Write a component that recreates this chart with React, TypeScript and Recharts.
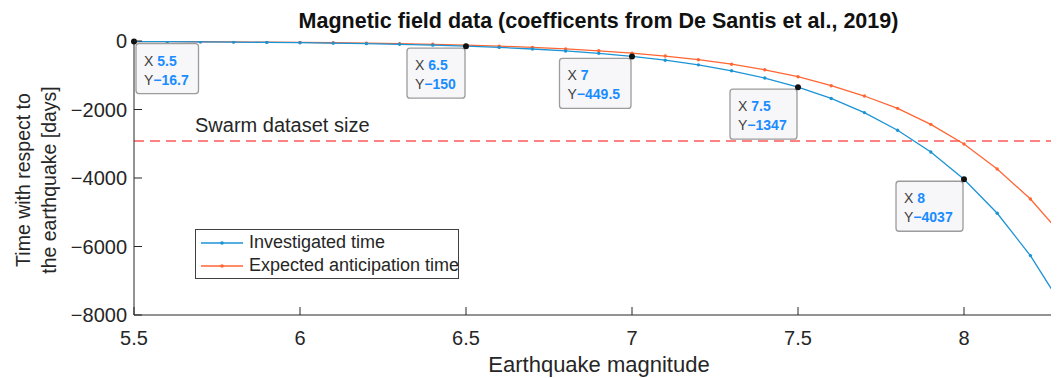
import React from 'react';
import { LineChart, Line, XAxis, YAxis, ReferenceLine, ReferenceDot } from 'recharts';

const magnitudes = [5.5, 5.6, 5.7, 5.8, 5.9, 6.0, 6.1, 6.2, 6.3, 6.4, 6.5, 6.6, 6.7, 6.8, 6.9, 7.0, 7.1, 7.2, 7.3, 7.4, 7.5, 7.6, 7.7, 7.8, 7.9, 8.0, 8.1, 8.2, 8.3];
const investigated = [-16.7, -20.8, -25.9, -32.3, -40.2, -50, -62.4, -77.7, -96.8, -120.6, -150, -187, -233, -290, -361, -449.5, -560, -697, -869, -1082, -1347, -1678, -2090, -2604, -3243, -4037, -5029, -6265, -7804];
const expected = [-14, -17.5, -22, -27, -33, -41, -51, -63, -78, -97, -121, -150, -186, -231, -286, -355, -440, -546, -677, -840, -1042, -1305, -1606, -1966, -2433, -3008, -3738, -4613, -5720];

const xTicks = [5.5, 6, 6.5, 7, 7.5, 8];
const yTicks = [-8000, -6000, -4000, -2000, 0];

const tipX = [5.5, 6.5, 7, 7.5, 8];
const tipY = [-16.7, -150, -449.5, -1347, -4037];
const tipXLabel = ['5.5', '6.5', '7', '7.5', '8'];
const tipYLabel = ['\u221216.7', '\u2212150', '\u2212449.5', '\u22121347', '\u22124037'];

const swarmSize = -2920;

const data = magnitudes.map((m, i) => ({ m, inv: investigated[i], exp: expected[i] }));

const AXIS = '#262626';
const BLUE = '#1b94d6';
const ORANGE = '#ff6633';
const FONT = '"Liberation Sans", Arial, sans-serif';

const fmt = (v: number) => String(v).replace('-', '\u2212');

const BottomTick = (p: any) => (
  <g>
    <line x1={p.x} y1={p.y} x2={p.x} y2={p.y - 8} stroke={AXIS} strokeWidth={1} />
    <text x={p.x} y={p.y + 30} textAnchor="middle" fontSize={20} fill={AXIS} fontFamily={FONT}>{fmt(p.payload.value)}</text>
  </g>
);
const TopTick = (p: any) => (
  <line x1={p.x} y1={p.y} x2={p.x} y2={p.y + 8} stroke={AXIS} strokeWidth={1} />
);
const LeftTick = (p: any) => (
  <g>
    <line x1={p.x} y1={p.y} x2={p.x + 8} y2={p.y} stroke={AXIS} strokeWidth={1} />
    <text x={p.x - 7} y={p.y + 7} textAnchor="end" fontSize={20} fill={AXIS} fontFamily={FONT}>{fmt(p.payload.value)}</text>
  </g>
);
const RightTick = (p: any) => (
  <line x1={p.x} y1={p.y} x2={p.x - 8} y2={p.y} stroke={AXIS} strokeWidth={1} />
);

const tipWidth = (s: string) => {
  let n = 0;
  for (const c of s) n += c === '.' ? 0.5 : 1;
  return 22 + 9 * n;
};

const makeTip = (i: number) => (p: any) => {
  const w = tipWidth(tipYLabel[i]);
  const h = 50;
  const bx = i === 0 ? p.cx + 2 : p.cx - w - 1;
  const by = p.cy + 2;
  return (
    <g>
      <rect x={bx} y={by} width={w} height={h} rx={3} fill="#f7f7fa" stroke="#9c9c9c" strokeWidth={1.3} />
      <text x={bx + 8} y={by + 22} fontSize={14} fontFamily={FONT} fill="#404040">
        X <tspan fill="#1a8cff" fontWeight="bold">{tipXLabel[i]}</tspan>
      </text>
      <text x={bx + 8} y={by + 41} fontSize={14} fontFamily={FONT} fill="#404040">
        Y<tspan fill="#1a8cff" fontWeight="bold">{tipYLabel[i]}</tspan>
      </text>
      <circle cx={p.cx} cy={p.cy} r={3} fill="#111" />
    </g>
  );
};

const LegendSample = ({ color }: { color: string }) => (
  <svg width={44} height={10} style={{ display: 'inline-block', verticalAlign: 'middle' }}>
    <line x1={1} y1={5} x2={43} y2={5} stroke={color} strokeWidth={1.3} />
    <circle cx={22} cy={5} r={1.8} fill={color} />
  </svg>
);

export default function App() {
  return (
    <div style={{ position: 'relative', width: 1051, height: 370, overflow: 'hidden', fontFamily: FONT, color: AXIS }}>
      <LineChart width={1080} height={370} data={data} margin={{ top: 33, right: 24.4, left: 0, bottom: 0 }}>
        <XAxis dataKey="m" type="number" domain={[5.5, 8.3]} ticks={xTicks} allowDataOverflow
          height={63} tickSize={0} tickMargin={0} tick={BottomTick} tickLine={false}
          axisLine={{ stroke: AXIS, strokeWidth: 1 }} />
        <XAxis xAxisId="top" orientation="top" type="number" domain={[5.5, 8.3]} ticks={xTicks} allowDataOverflow
          height={0} tickSize={0} tickMargin={0} tick={TopTick} tickLine={false}
          axisLine={{ stroke: AXIS, strokeWidth: 1 }} />
        <YAxis type="number" domain={[-8000, 0]} ticks={yTicks} allowDataOverflow
          width={126} tickSize={0} tickMargin={0} tick={LeftTick} tickLine={false}
          axisLine={{ stroke: AXIS, strokeWidth: 1 }} />
        <YAxis yAxisId="right" orientation="right" type="number" domain={[-8000, 0]} ticks={yTicks} allowDataOverflow
          width={0} tickSize={0} tickMargin={0} tick={RightTick} tickLine={false}
          axisLine={{ stroke: AXIS, strokeWidth: 1 }} />
        <ReferenceLine y={swarmSize} stroke="#ff5a5a" strokeWidth={1.4} strokeDasharray="10 6" />
        <Line dataKey="exp" stroke={ORANGE} strokeWidth={1.3} isAnimationActive={false}
          dot={{ r: 1.7, fill: ORANGE, stroke: ORANGE, strokeWidth: 0 }} activeDot={false} />
        <Line dataKey="inv" stroke={BLUE} strokeWidth={1.3} isAnimationActive={false}
          dot={{ r: 1.7, fill: BLUE, stroke: BLUE, strokeWidth: 0 }} activeDot={false} />
        {tipX.map((x, i) => (
          <ReferenceDot key={i} x={x} y={tipY[i]} r={3} shape={makeTip(i)} ifOverflow="visible" />
        ))}
      </LineChart>

      <div style={{ position: 'absolute', left: 0, width: 1181, top: 1, textAlign: 'center', fontWeight: 'bold', fontSize: 21.5, color: '#111', whiteSpace: 'nowrap' }}>
        Magnetic field data (coefficents from De Santis et al., 2019)
      </div>
      <div style={{ position: 'absolute', left: 0, width: 1182, top: 344, textAlign: 'center', fontSize: 22, color: AXIS, whiteSpace: 'nowrap' }}>
        Earthquake magnitude
      </div>
      <div style={{ position: 'absolute', left: 28 - 150, top: 172 - 26, width: 300, height: 52, transform: 'rotate(-90deg)', textAlign: 'center', fontSize: 19.5, lineHeight: '26px', color: AXIS, whiteSpace: 'nowrap' }}>
        Time with respect to<br />the earthquake [days]
      </div>
      <div style={{ position: 'absolute', left: 187, top: 106, fontSize: 20, color: AXIS, whiteSpace: 'nowrap' }}>
        Swarm dataset size
      </div>
      <div style={{ position: 'absolute', left: 187, top: 221, width: 264, height: 50, border: '1px solid #404040', background: '#fff', fontSize: 18, lineHeight: '23px', paddingTop: 1, boxSizing: 'border-box' }}>
        <div style={{ whiteSpace: 'nowrap', paddingLeft: 4 }}><LegendSample color={BLUE} /> Investigated time</div>
        <div style={{ whiteSpace: 'nowrap', paddingLeft: 4 }}><LegendSample color={ORANGE} /> Expected anticipation time</div>
      </div>
    </div>
  );
}
